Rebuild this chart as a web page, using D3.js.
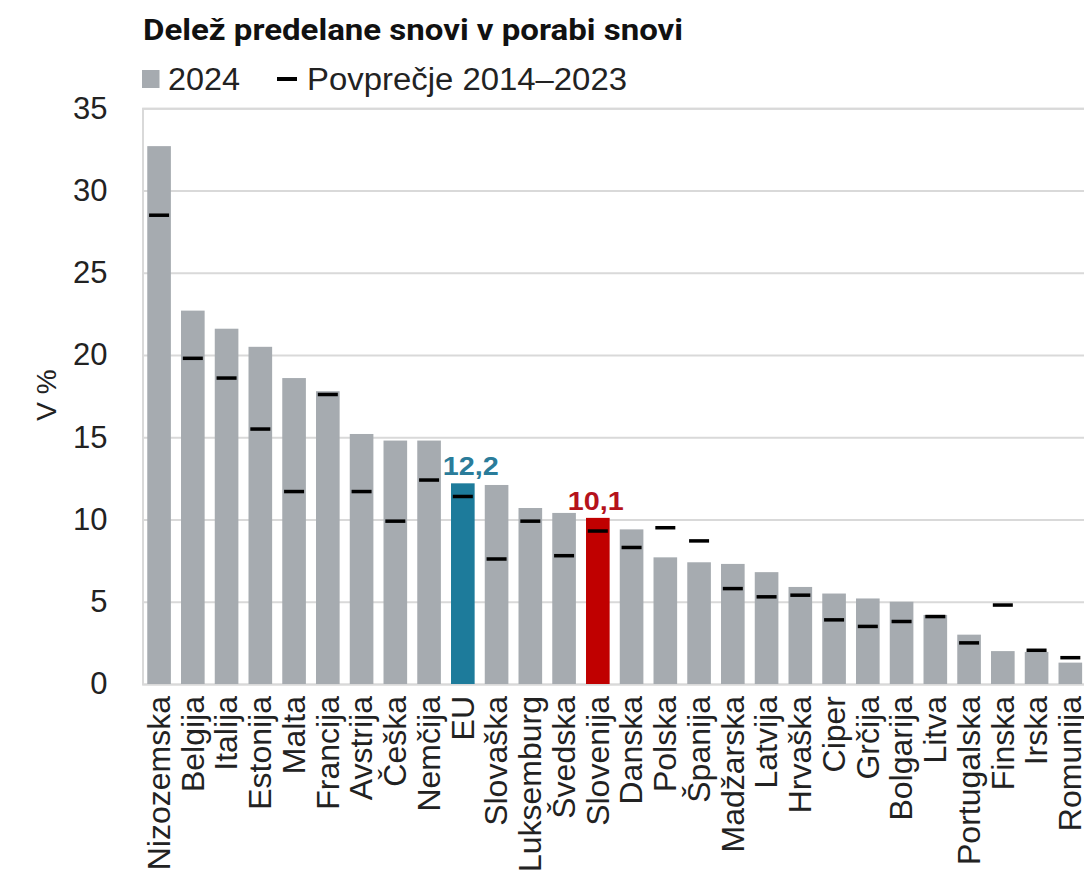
<!DOCTYPE html>
<html>
<head>
<meta charset="utf-8">
<script src="https://cdn.jsdelivr.net/npm/d3@7"></script>
<style>
  body { margin: 0; background: #fff; }
  text { font-family: "Liberation Sans", Arial, sans-serif; }
</style>
</head>
<body>
<div id="chart"></div>
<script>
// chart data
var categories = ["Nizozemska", "Belgija", "Italija", "Estonija", "Malta", "Francija", "Avstrija", "Češka", "Nemčija", "EU",
    "Slovaška", "Luksemburg", "Švedska", "Slovenija", "Danska", "Polska", "Španija", "Madžarska", "Latvija", "Hrvaška",
    "Ciper", "Grčija", "Bolgarija", "Litva", "Portugalska", "Finska", "Irska", "Romunija"];
var values2024 = [32.7, 22.7, 21.6, 20.5, 18.6, 17.8, 15.2, 14.8, 14.8, 12.2,
    12.1, 10.7, 10.4, 10.1, 9.4, 7.7, 7.4, 7.3, 6.8, 5.9,
    5.5, 5.2, 5.0, 4.2, 3.0, 2.0, 1.95, 1.3];
var avg2014_2023 = [28.5, 19.8, 18.6, 15.5, 11.7, 17.6, 11.7, 9.9, 12.4, 11.4,
    7.6, 9.9, 7.8, 9.3, 8.3, 9.5, 8.7, 5.8, 5.3, 5.4,
    3.9, 3.5, 3.8, 4.1, 2.5, 4.8, 2.05, 1.6];
var yTicks = [0, 5, 10, 15, 20, 25, 30, 35];
var highlighted = { "EU": "#1d7b9b", "Slovenija": "#c00000" };
var labelColors = { "EU": "#2a7c9a", "Slovenija": "#b5121b" };

var attrs = {
    svgWidth: 1084,
    svgHeight: 874,
    plotLeft: 142.5,
    plotTop: 108.3,
    plotBottom: 684,
    barColor: "#a6abb0",
    gridColor: "#d9d9d9"
};

var data = categories.map(function (c, i) {
    return { name: c, value: values2024[i], avg: avg2014_2023[i] };
});

var svg = d3.select("#chart").append("svg")
    .attr("width", attrs.svgWidth)
    .attr("height", attrs.svgHeight);

var x = d3.scaleBand()
    .domain(categories)
    .range([142.2, 1087.2])
    .paddingInner(0.3)
    .paddingOuter(0.15);

var y = d3.scaleLinear()
    .domain([0, 35])
    .range([attrs.plotBottom, attrs.plotTop]);

// title
svg.append("text")
    .attr("x", 143)
    .attr("y", 40)
    .attr("textLength", 540)
    .attr("lengthAdjust", "spacingAndGlyphs")
    .style("font-family", "'Liberation Sans Narrow', Roboto, sans-serif")
    .style("font-size", "29px")
    .style("font-weight", "bold")
    .attr("fill", "#111")
    .text("Delež predelane snovi v porabi snovi");

// legend
var legend = svg.append("g");
legend.append("rect")
    .attr("x", 142).attr("y", 70)
    .attr("width", 17.5).attr("height", 18)
    .attr("fill", attrs.barColor);
legend.append("text")
    .attr("x", 168).attr("y", 90)
    .attr("textLength", 72).attr("lengthAdjust", "spacingAndGlyphs")
    .style("font-size", "31px").attr("fill", "#222")
    .text("2024");
legend.append("rect")
    .attr("x", 277).attr("y", 77)
    .attr("width", 20).attr("height", 4)
    .attr("fill", "#000");
legend.append("text")
    .attr("x", 307).attr("y", 90)
    .attr("textLength", 320).attr("lengthAdjust", "spacingAndGlyphs")
    .style("font-size", "31px").attr("fill", "#222")
    .text("Povprečje 2014–2023");

// y axis + grid
var yAxis = d3.axisLeft(y)
    .tickValues(yTicks)
    .tickSize(-(attrs.svgWidth - attrs.plotLeft))
    .tickPadding(35)
    .tickFormat(d3.format("d"));

var yAxisG = svg.append("g")
    .attr("transform", "translate(" + attrs.plotLeft + ",0)")
    .call(yAxis);

yAxisG.select(".domain")
    .attr("stroke", attrs.gridColor)
    .attr("stroke-width", 2);
yAxisG.selectAll(".tick line")
    .attr("stroke", attrs.gridColor)
    .attr("stroke-width", 2);
yAxisG.selectAll(".tick text")
    .style("font-family", "'Liberation Sans', Arial, sans-serif")
    .style("font-size", "31px")
    .attr("fill", "#222");

// y axis title
svg.append("text")
    .attr("transform", "translate(56,395) rotate(-90)")
    .attr("text-anchor", "middle")
    .style("font-size", "28px")
    .attr("fill", "#222")
    .text("V %");

// bars
svg.append("g").selectAll("rect")
    .data(data)
    .enter().append("rect")
    .attr("x", function (d) { return x(d.name); })
    .attr("y", function (d) { return y(d.value); })
    .attr("width", x.bandwidth())
    .attr("height", function (d) { return y(0) - y(d.value); })
    .attr("fill", function (d) { return highlighted[d.name] || attrs.barColor; });

// average markers
var markerW = 20;
svg.append("g").selectAll("rect")
    .data(data)
    .enter().append("rect")
    .attr("x", function (d) { return x(d.name) + (x.bandwidth() - markerW) / 2; })
    .attr("y", function (d) { return y(d.avg) - 1.75; })
    .attr("width", markerW)
    .attr("height", 3.5)
    .attr("fill", "#000");

// value labels for highlighted bars
svg.append("g").selectAll("text")
    .data(data.filter(function (d) { return labelColors[d.name]; }))
    .enter().append("text")
    .attr("x", function (d) { return x(d.name) + x.bandwidth() / 2 + (d.name === "EU" ? 8 : -2); })
    .attr("y", function (d) { return y(d.value) - 8; })
    .attr("text-anchor", "middle")
    .attr("textLength", 56)
    .attr("lengthAdjust", "spacingAndGlyphs")
    .style("font-family", "'Liberation Sans', Arial, sans-serif")
    .style("font-size", "26px")
    .style("font-weight", "bold")
    .attr("fill", function (d) { return labelColors[d.name]; })
    .text(function (d) { return d3.format(".1f")(d.value).replace(".", ","); });

// category labels
var xAxisG = svg.append("g")
    .attr("transform", "translate(0," + attrs.plotBottom + ")")
    .call(d3.axisBottom(x).tickSize(0).tickPadding(0));

xAxisG.select(".domain").remove();
xAxisG.selectAll(".tick text")
    .attr("transform", "rotate(-90)")
    .attr("x", -12)
    .attr("y", 0)
    .attr("dy", "0.34em")
    .attr("text-anchor", "end")
    .style("font-family", "'Liberation Sans', Arial, sans-serif")
    .style("font-size", "32px")
    .attr("fill", "#222");
</script>
</body>
</html>
